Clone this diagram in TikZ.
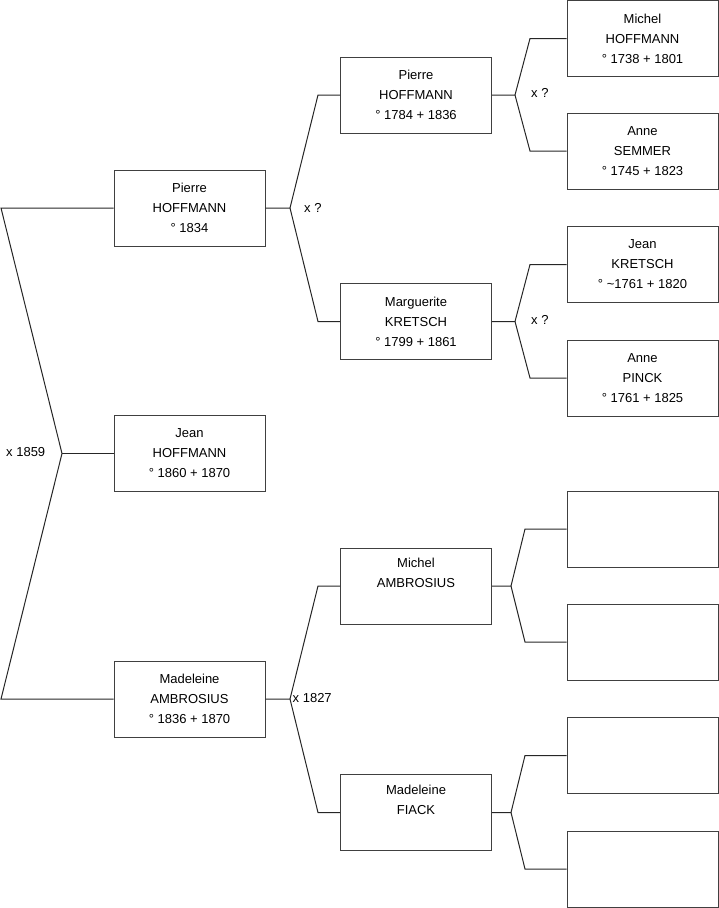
\documentclass[tikz,border=0pt]{standalone}
\usepackage{fontspec}
\setmainfont{Liberation Sans}
\begin{document}
\begin{tikzpicture}[x=1pt,y=-1pt,
  box/.style={draw=black!75, line width=1pt, minimum width=151pt, minimum height=76pt, inner sep=0pt, align=center, font=\fontsize{13}{20}\selectfont},
  link/.style={draw=black!85, line width=1pt},
  lbl/.style={font=\fontsize{13}{15}\selectfont, inner sep=0pt, anchor=west}]
\useasboundingbox (0,0) rectangle (719,908);
% generation 1
\node[box] (p1) at (189.5,208) {Pierre\\HOFFMANN\\° 1834};
\node[box] (j1) at (189.5,453.5) {Jean\\HOFFMANN\\° 1860 + 1870};
\node[box] (m1) at (189.5,699) {Madeleine\\AMBROSIUS\\° 1836 + 1870};
% generation 2
\node[box] (p2) at (416,95) {Pierre\\HOFFMANN\\° 1784 + 1836};
\node[box] (g2) at (416,321.5) {Marguerite\\KRETSCH\\° 1799 + 1861};
\node[box] (m2) at (416,586) {Michel\\AMBROSIUS\\\strut};
\node[box] (f2) at (416,812.5) {Madeleine\\FIACK\\\strut};
% generation 3
\node[box] (q1) at (642.5,38.5) {Michel\\HOFFMANN\\° 1738 + 1801};
\node[box] (q2) at (642.5,151) {Anne\\SEMMER\\° 1745 + 1823};
\node[box] (q3) at (642.5,264.5) {Jean\\KRETSCH\\° \textasciitilde 1761 + 1820};
\node[box] (q4) at (642.5,378) {Anne\\PINCK\\° 1761 + 1825};
\node[box] (q5) at (642.5,529) {};
\node[box] (q6) at (642.5,642) {};
\node[box] (q7) at (642.5,755.5) {};
\node[box] (q8) at (642.5,869) {};
% bracket gen 1
\coordinate (a0) at (1,208);
\coordinate (a1) at (62,453.5);
\coordinate (a2) at (1,699);
\draw[link] (p1.west) -- (a0) -- (a1) -- (a2) -- (m1.west);
\draw[link] (a1) -- (j1.west);
\node[lbl] (l0) at (6,452) {x 1859};
% brackets gen 2
\coordinate (b1) at (290,208);
\coordinate (b1u) at (318,95);
\coordinate (b1d) at (318,321.5);
\draw[link] (p1.east) -- (b1) -- (b1u) -- (p2.west);
\draw[link] (b1) -- (b1d) -- (g2.west);
\node[lbl] (l1) at (304,208) {x ?};
\coordinate (b2) at (290,699);
\coordinate (b2u) at (318,586);
\coordinate (b2d) at (318,812.5);
\draw[link] (m1.east) -- (b2) -- (b2u) -- (m2.west);
\draw[link] (b2) -- (b2d) -- (f2.west);
\node[lbl] (l2) at (292.5,698) {x 1827};
% brackets gen 3
\coordinate (c1) at (515,95);
\coordinate (c1u) at (530,38.5);
\coordinate (c1d) at (530,151);
\draw[link] (p2.east) -- (c1) -- (c1u) -- (q1.west);
\draw[link] (c1) -- (c1d) -- (q2.west);
\node[lbl] (l3) at (531,93) {x ?};
\coordinate (c2) at (515,321.5);
\coordinate (c2u) at (530,264.5);
\coordinate (c2d) at (530,378);
\draw[link] (g2.east) -- (c2) -- (c2u) -- (q3.west);
\draw[link] (c2) -- (c2d) -- (q4.west);
\node[lbl] (l4) at (531,320) {x ?};
\coordinate (c3) at (511,586);
\coordinate (c3u) at (525,529);
\coordinate (c3d) at (525,642);
\draw[link] (m2.east) -- (c3) -- (c3u) -- (q5.west);
\draw[link] (c3) -- (c3d) -- (q6.west);
\coordinate (c4) at (511,812.5);
\coordinate (c4u) at (525,755.5);
\coordinate (c4d) at (525,869);
\draw[link] (f2.east) -- (c4) -- (c4u) -- (q7.west);
\draw[link] (c4) -- (c4d) -- (q8.west);
\end{tikzpicture}
\end{document}
